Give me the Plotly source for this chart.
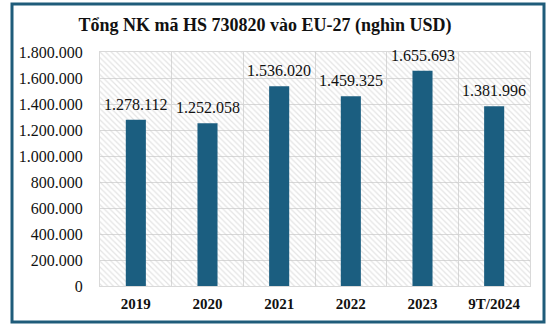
import plotly.graph_objects as go

categories = ["2019", "2020", "2021", "2022", "2023", "9T/2024"]
values = [1278112, 1252058, 1536020, 1459325, 1655693, 1381996]
y_ticks = [0, 200000, 400000, 600000, 800000, 1000000, 1200000, 1400000, 1600000, 1800000]
title_text = "Tổng NK mã HS 730820 vào EU-27 (nghìn USD)"

def fmt(v):
    return f"{v:,}".replace(",", ".")

FONT = "Liberation Serif"
BAR = "#1b5e80"
YMAX = 1800000

fig = go.Figure()

# hatched plot-area background
fig.add_trace(go.Bar(
    x=categories, y=[YMAX] * len(categories), width=1,
    marker=dict(color="rgba(0,0,0,0)", line=dict(width=0),
                pattern=dict(shape="\\", fgcolor="#c8c8c8", bgcolor="rgba(0,0,0,0)",
                             size=4, solidity=0.3)),
    hoverinfo="skip", showlegend=False,
))

fig.add_trace(go.Bar(
    x=categories, y=values, width=0.28,
    marker=dict(color=BAR, line=dict(width=0)),
    showlegend=False,
))

for i, v in enumerate(values):
    fig.add_annotation(x=i, y=v, text=fmt(v), showarrow=False,
                       yanchor="bottom", yshift=5,
                       font=dict(family=FONT, size=16, color="#111"))

fig.update_layout(
    width=551, height=331,
    margin=dict(l=100, r=21, t=52, b=45),
    paper_bgcolor="white", plot_bgcolor="white",
    barmode="overlay",
    title=dict(text="<b>" + title_text + "</b>", x=265 / 551, xanchor="center",
               y=1 - 25 / 331, yanchor="middle",
               font=dict(family=FONT, size=18, color="#111")),
    shapes=[dict(type="rect", xref="paper", yref="paper",
                 x0=-88 / 430, x1=1 + 14 / 430, y0=-36 / 234, y1=1 + 48 / 234,
                 line=dict(color="#1f5c7a", width=3), layer="above")],
    xaxis=dict(
        type="category", categoryorder="array", categoryarray=categories,
        range=[-0.5, len(categories) - 0.5],
        tickson="boundaries", showgrid=True, gridcolor="#d9d9d9",
        gridwidth=1, showline=True, linecolor="#d9d9d9", mirror=True,
        ticks="", ticklabelstandoff=4,
        tickfont=dict(family=FONT, size=15, color="#111"),
    ),
    yaxis=dict(
        range=[0, YMAX], tickvals=y_ticks, ticktext=[fmt(t) for t in y_ticks],
        showgrid=True, gridcolor="#d9d9d9", gridwidth=1,
        showline=True, linecolor="#d9d9d9", mirror=True, zeroline=False,
        ticks="outside", ticklen=13, tickcolor="rgba(0,0,0,0)",
        tickfont=dict(family=FONT, size=16, color="#111"),
    ),
)
fig.update_xaxes(ticktext=["<b>" + c + "</b>" for c in categories], tickvals=categories)

fig.write_html("out.html")
